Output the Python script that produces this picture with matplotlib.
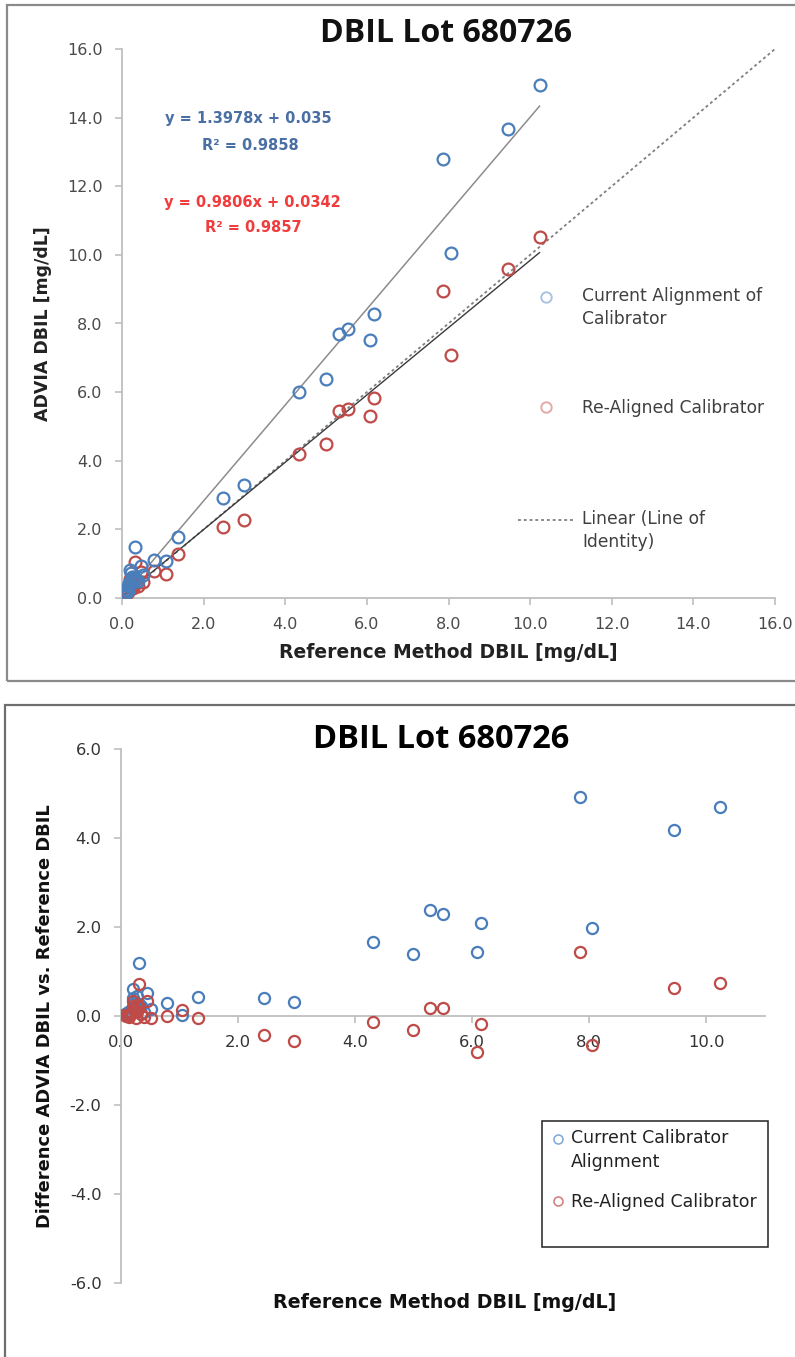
import numpy as np
import matplotlib
matplotlib.use("Agg")
import matplotlib.pyplot as plt
from matplotlib.lines import Line2D
from matplotlib.patches import Rectangle
from matplotlib.legend_handler import HandlerLine2D
from matplotlib.ticker import FormatStrFormatter, MultipleLocator

# ---------------- data (top: method comparison) ----------------
ref_top = [10.23, 9.47, 7.87, 8.06, 6.18, 5.54, 5.32, 6.07, 4.99, 4.34,
           2.99, 2.47, 1.37, 0.33, 0.78, 1.07, 0.47, 0.52,
           0.20, 0.22, 0.25, 0.28, 0.18, 0.15, 0.12, 0.10, 0.08, 0.30,
           0.35, 0.40, 0.27, 0.14, 0.06]
advia_current = [14.95, 13.68, 12.80, 10.05, 8.27, 7.83, 7.70, 7.53, 6.39, 6.01,
                 3.29, 2.90, 1.79, 1.50, 1.11, 1.09, 0.94, 0.66,
                 0.82, 0.72, 0.62, 0.55, 0.45, 0.35, 0.25, 0.16, 0.12, 0.62,
                 0.55, 0.50, 0.48, 0.20, 0.10]
advia_realigned = [10.53, 9.60, 8.95, 7.08, 5.82, 5.50, 5.45, 5.31, 4.48, 4.19,
                   2.27, 2.06, 1.28, 1.06, 0.80, 0.70, 0.77, 0.48,
                   0.55, 0.50, 0.45, 0.38, 0.32, 0.22, 0.16, 0.12, 0.09, 0.52,
                   0.44, 0.36, 0.30, 0.18, 0.08]
fit_current = (1.3978, 0.035)
fit_realigned = (0.9806, 0.0342)
identity_x = [0.0, 16.0]
identity_y = [0.0, 16.0]

# ---------------- data (bottom: difference plot) ----------------
ref_bottom = [10.23, 9.44, 7.84, 8.04, 6.15, 5.50, 5.28, 6.08, 4.99, 4.31,
              2.95, 2.44, 1.32, 0.30, 0.78, 1.04, 0.44, 0.51, 0.21, 0.27,
              0.20, 0.22, 0.25, 0.28, 0.18, 0.15, 0.12, 0.10, 0.08, 0.30,
              0.35, 0.40, 0.26, 0.14, 0.06]
diff_current = [4.70, 4.19, 4.92, 1.98, 2.09, 2.30, 2.38, 1.44, 1.39, 1.67,
                0.32, 0.41, 0.43, 1.18, 0.29, 0.02, 0.51, 0.15, 0.60, 0.45,
                0.40, 0.30, 0.25, 0.20, 0.15, 0.12, 0.08, 0.05, 0.04, 0.28,
                0.22, 0.10, 0.18, 0.06, 0.04]
diff_realigned = [0.74, 0.64, 1.44, -0.66, -0.17, 0.17, 0.18, -0.80, -0.31, -0.13,
                  -0.56, -0.43, -0.04, 0.73, 0.00, 0.13, 0.34, -0.05, 0.34, 0.25,
                  0.22, 0.15, 0.12, 0.10, 0.06, 0.05, 0.03, 0.02, 0.01, 0.20,
                  0.05, -0.02, -0.04, -0.03, 0.02]

BLUE = "#4A7EBB"
RED = "#BE4B48"

plt.rcParams["font.family"] = ["DejaVu Sans"]
plt.rcParams["axes.unicode_minus"] = False

W, H = 795, 1357
fig = plt.figure(figsize=(W / 100, H / 100), dpi=100)
fig.patch.set_facecolor("white")


def fx(px):
    return px / W


def fy(py):
    return 1 - py / H


class ShiftedHandler(HandlerLine2D):
    def __init__(self, dy=0.0, **kw):
        super().__init__(**kw)
        self.dy = dy

    def create_artists(self, legend, orig_handle, xdescent, ydescent, width,
                       height, fontsize, trans):
        arts = super().create_artists(legend, orig_handle, xdescent, ydescent,
                                      width, height, fontsize, trans)
        for a in arts:
            a.set_ydata(np.asarray(a.get_ydata(), float) + self.dy * fontsize)
        return arts


# panel borders
fig.add_artist(Rectangle((fx(7), fy(681)), fx(820) - fx(7), fy(5) - fy(681),
                         transform=fig.transFigure, fill=False,
                         edgecolor="#8a8a8a", lw=1.6))
fig.add_artist(Rectangle((fx(5), fy(1380)), fx(820) - fx(5), fy(705) - fy(1380),
                         transform=fig.transFigure, fill=False,
                         edgecolor="#6e6e6e", lw=1.6))

# ================= top chart =================
ax1 = fig.add_axes([fx(122), fy(598), fx(775) - fx(122), fy(49) - fy(598)])
ax1.set_xlim(0, 16)
ax1.set_ylim(0, 16)
for s in ("top", "right"):
    ax1.spines[s].set_visible(False)
for s in ("left", "bottom"):
    ax1.spines[s].set_color("#bfbfbf")
    ax1.spines[s].set_linewidth(1.3)
ax1.xaxis.set_major_locator(MultipleLocator(2))
ax1.yaxis.set_major_locator(MultipleLocator(2))
ax1.xaxis.set_major_formatter(FormatStrFormatter("%.1f"))
ax1.yaxis.set_major_formatter(FormatStrFormatter("%.1f"))
ax1.tick_params(direction="out", length=5, width=1.2, color="#bfbfbf",
                labelcolor="#4a4a4a", labelsize=11.5)
ax1.tick_params(axis="x", pad=9)
ax1.tick_params(axis="y", pad=9)

ax1.plot(identity_x, identity_y, color="#7f7f7f", lw=1.3,
         ls=(0, (1.6, 1.6)), zorder=2)
xs = np.array([min(ref_top), max(ref_top)])
ax1.plot(xs, fit_current[0] * xs + fit_current[1], color="#8c8c8c", lw=1.1, zorder=2)
ax1.plot(xs, fit_realigned[0] * xs + fit_realigned[1], color="#3a3a3a", lw=1.0, zorder=2)
ax1.plot(ref_top, advia_realigned, "o", ls="none", mfc="none", mec=RED,
         mew=1.6, ms=8.5, zorder=3)
ax1.plot(ref_top, advia_current, "o", ls="none", mfc="none", mec=BLUE,
         mew=1.6, ms=8.5, zorder=3)

fig.text(fx(446), fy(34), "DBIL Lot 680726", ha="center", va="center",
         fontsize=23, fontweight="bold", family=["Open Sans", "DejaVu Sans"],
         color="#111111")
fig.text(fx(448), fy(652), "Reference Method DBIL [mg/dL]", ha="center",
         va="center", fontsize=13.5, fontweight="bold", color="#222222")
fig.text(fx(43), fy(324), "ADVIA DBIL [mg/dL]", ha="center", va="center",
         rotation=90, fontsize=12.5, fontweight="bold", color="#222222")

fig.text(fx(248), fy(119), "y = 1.3978x + 0.035", ha="center", va="center",
         fontsize=10.5, fontweight="bold", color="#4a6fa5")
fig.text(fx(250), fy(145), "R\u00b2 = 0.9858", ha="center", va="center",
         fontsize=10.5, fontweight="bold", color="#4a6fa5")
fig.text(fx(252), fy(203), "y = 0.9806x + 0.0342", ha="center", va="center",
         fontsize=10.5, fontweight="bold", color="#f03c3c")
fig.text(fx(253), fy(228), "R\u00b2 = 0.9857", ha="center", va="center",
         fontsize=10.5, fontweight="bold", color="#f03c3c")

h_cur = Line2D([], [], marker="o", ls="none", mfc="none", mec="#a9c3e3", mew=1.4, ms=7.5)
h_re = Line2D([], [], marker="o", ls="none", mfc="none", mec="#e3a9a8", mew=1.4, ms=7.5)
h_id = Line2D([], [], color="#808080", lw=1.3, ls=(0, (1.6, 1.6)))
top_entries = [
    (h_cur, "Current Alignment of\nCalibrator", 287, 0.7),
    (h_re, "Re-Aligned Calibrator", 399, 0.0),
    (h_id, "Linear (Line of\nIdentity)", 510, 0.7),
]
for hnd, lab, ytop, dy in top_entries:
    leg = fig.legend([hnd], [lab], loc="upper left",
                     bbox_to_anchor=(fx(518), fy(ytop)),
                     bbox_transform=fig.transFigure, frameon=False,
                     borderpad=0, borderaxespad=0, handlelength=3.3,
                     handletextpad=0.45, fontsize=12.3, labelcolor="#404040",
                     handler_map={hnd: ShiftedHandler(dy=dy)})
    for t in leg.get_texts():
        t.set_linespacing(1.35)

# ================= bottom chart =================
ax2 = fig.add_axes([fx(121), fy(1283), fx(765) - fx(121), fy(749) - fy(1283)])
ax2.set_xlim(0, 11)
ax2.set_ylim(-6, 6)
for s in ("top", "right"):
    ax2.spines[s].set_visible(False)
ax2.spines["bottom"].set_position(("data", 0))
for s in ("left", "bottom"):
    ax2.spines[s].set_color("#bfbfbf")
    ax2.spines[s].set_linewidth(1.3)
ax2.xaxis.set_major_locator(MultipleLocator(2))
ax2.yaxis.set_major_locator(MultipleLocator(2))
ax2.set_xticks([0, 2, 4, 6, 8, 10])
ax2.xaxis.set_major_formatter(FormatStrFormatter("%.1f"))
ax2.yaxis.set_major_formatter(FormatStrFormatter("%.1f"))
ax2.tick_params(direction="out", length=5, width=1.2, color="#bfbfbf",
                labelcolor="#333333", labelsize=11.8)
ax2.tick_params(axis="x", pad=9)
ax2.tick_params(axis="y", pad=9)

ax2.plot(ref_bottom, diff_current, "o", ls="none", mfc="none", mec=BLUE,
         mew=1.6, ms=8, zorder=3)
ax2.plot(ref_bottom, diff_realigned, "o", ls="none", mfc="none", mec=RED,
         mew=1.6, ms=8, zorder=3)

fig.text(fx(441), fy(740), "DBIL Lot 680726", ha="center", va="center",
         fontsize=23.5, fontweight="bold", family=["Open Sans", "DejaVu Sans"],
         color="#000000")
fig.text(fx(445), fy(1303), "Reference Method DBIL [mg/dL]", ha="center",
         va="center", fontsize=13.7, fontweight="bold", color="#111111")
fig.text(fx(45), fy(1016), "Difference ADVIA DBIL vs. Reference DBIL",
         ha="center", va="center", rotation=90, fontsize=12.9,
         fontweight="bold", color="#111111")

# legend frame and entries
fig.add_artist(Rectangle((fx(542), fy(1247)), fx(768) - fx(542), fy(1121) - fy(1247),
                         transform=fig.transFigure, fill=False,
                         edgecolor="#222222", lw=1.1))
hb_cur = Line2D([], [], marker="o", ls="none", mfc="none", mec="#7ea6d6", mew=1.1, ms=6.5)
hb_re = Line2D([], [], marker="o", ls="none", mfc="none", mec="#d07a78", mew=1.1, ms=6.5)
bottom_entries = [
    (hb_cur, "Current Calibrator\nAlignment", 1129, 0.72),
    (hb_re, "Re-Aligned Calibrator", 1193, 0.0),
]
for hnd, lab, ytop, dy in bottom_entries:
    leg = fig.legend([hnd], [lab], loc="upper left",
                     bbox_to_anchor=(fx(549), fy(ytop)),
                     bbox_transform=fig.transFigure, frameon=False,
                     borderpad=0, borderaxespad=0, handlelength=1.0,
                     handletextpad=0.25, fontsize=12.5, labelcolor="#222222",
                     handler_map={hnd: ShiftedHandler(dy=dy)})
    for t in leg.get_texts():
        t.set_linespacing(1.45)

fig.savefig("out.png", dpi=100, facecolor="white")
